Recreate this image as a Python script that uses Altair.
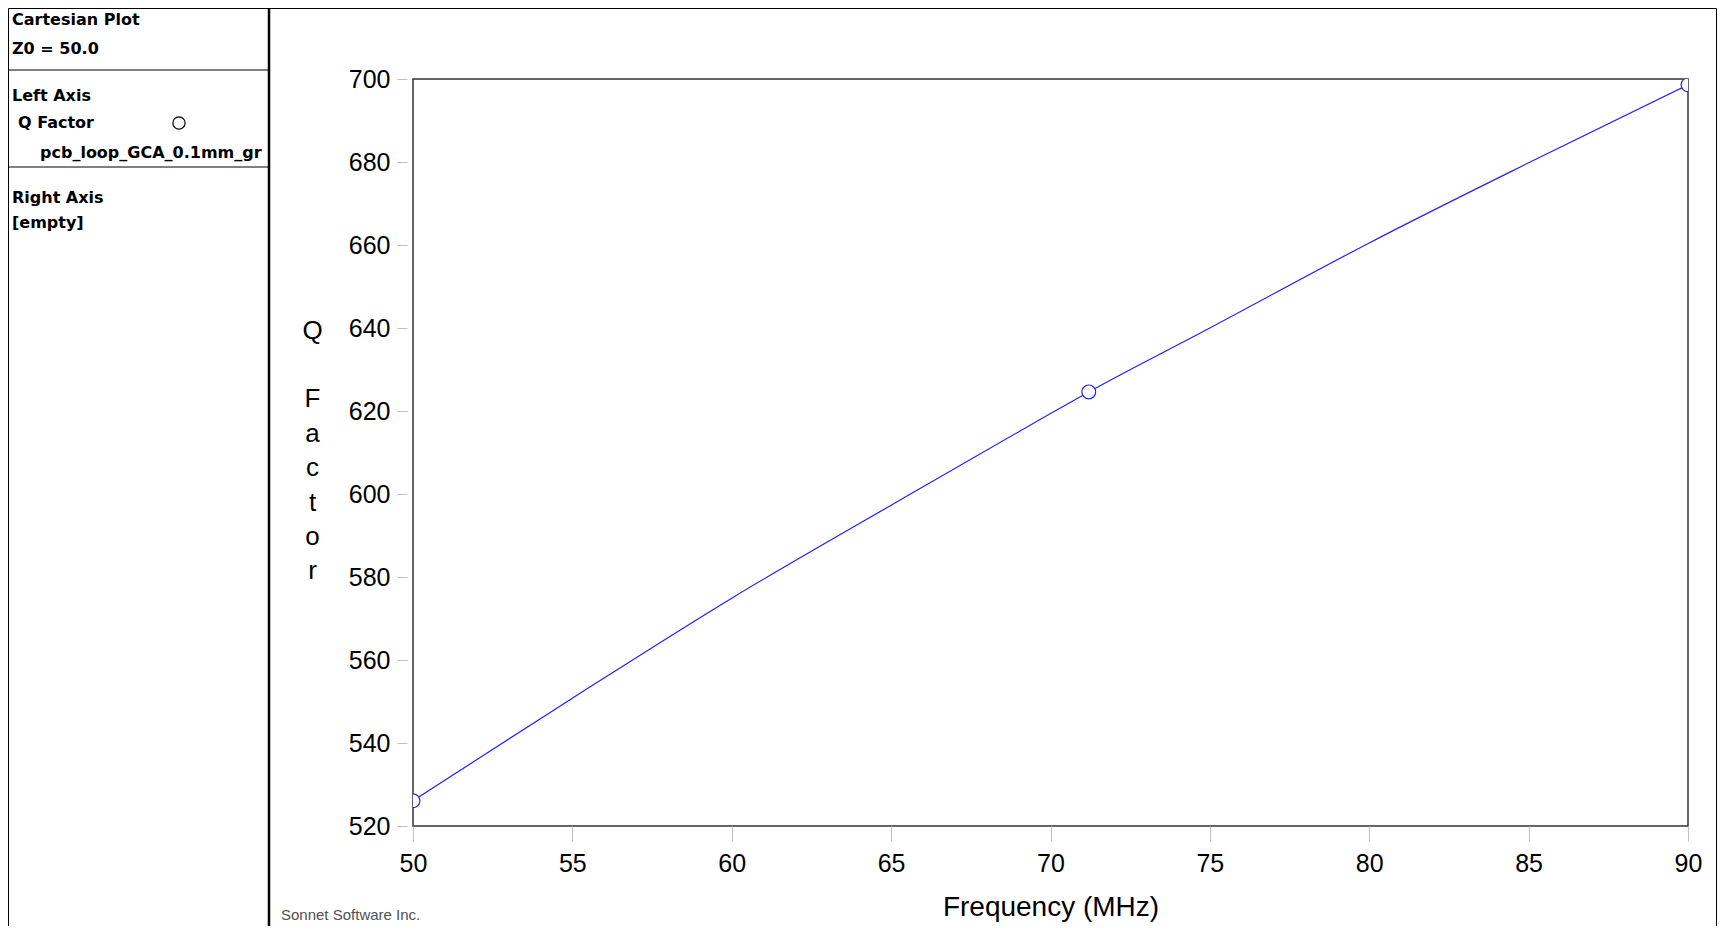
import altair as alt
import pandas as pd

# ---- data ----
freq_mhz = [50, 55, 60, 65, 70, 71.2, 75, 80, 85, 90]
q_factor = [526.1, 550.8, 574.9, 597.3, 619.4, 624.6, 640.0, 660.5, 679.8, 698.6]
marker_freq = [50, 71.2, 90]
marker_q = [526.1, 624.6, 698.6]
x_ticks = [50, 55, 60, 65, 70, 75, 80, 85, 90]
y_ticks = [520, 540, 560, 580, 600, 620, 640, 660, 680, 700]
series_name = "pcb_loop_GCA_0.1mm_gr"

W, H = 1275, 747
FONT = "Liberation Sans"
PANEL_FONT = "DejaVu Sans"

line_df = pd.DataFrame({"f": freq_mhz, "q": q_factor})
mark_df = pd.DataFrame({"f": marker_freq, "q": marker_q})
one = pd.DataFrame({"a": [0]})

xscale = alt.Scale(domain=[50, 90], nice=False, zero=False)
yscale = alt.Scale(domain=[520, 700], nice=False, zero=False)

xaxis = alt.Axis(values=x_ticks, title="Frequency (MHz)", grid=False, domain=False,
                 tickSize=15, tickColor="#c0c0c0", labelPadding=10, labelFlush=False,
                 labelFontSize=25, labelFont=FONT, labelColor="black",
                 titleFontSize=28, titleFont=FONT, titleFontWeight="normal",
                 titleColor="black", titleBaseline="middle", titleY=81)
yaxis = alt.Axis(values=y_ticks,
                 title=["Q", "\u2800", "F", "a", "c", "t", "o", "r"],
                 grid=False, domain=False, offset=6, labelFlush=False,
                 tickSize=10, tickColor="#c0c0c0", labelPadding=7,
                 labelFontSize=25, labelFont=FONT, labelColor="black",
                 titleFontSize=26, titleFont=FONT, titleFontWeight="normal",
                 titleColor="black", titleAngle=0, titleAlign="center",
                 titleBaseline="middle", titleLineHeight=34.4,
                 titleX=-95, titleY=251)

line = alt.Chart(line_df).mark_line(color="#2020ff", strokeWidth=1.2, clip=True,
                                    interpolate="monotone").encode(
    x=alt.X("f:Q", scale=xscale, axis=xaxis),
    y=alt.Y("q:Q", scale=yscale, axis=yaxis),
)
pts = alt.Chart(mark_df).mark_point(shape="circle", size=190, filled=True, fill="white",
                                    stroke="#2020ff", strokeWidth=1.2, opacity=1,
                                    clip=True).encode(
    x=alt.X("f:Q", scale=xscale),
    y=alt.Y("q:Q", scale=yscale),
)

def hrule(x1, x2, y, w=1.0):
    return alt.Chart(one).mark_rule(color="black", strokeWidth=w).encode(
        x=alt.value(x1), x2=alt.value(x2), y=alt.value(y))

def vrule(x, y1, y2, w=1.0):
    return alt.Chart(one).mark_rule(color="black", strokeWidth=w).encode(
        x=alt.value(x), y=alt.value(y1), y2=alt.value(y2))

def label(txt, x, y, size=16, bold=True, color="black", font=PANEL_FONT, limit=0):
    kw = dict(text=txt, align="left", baseline="middle", font=font, fontSize=size,
              fontWeight="bold" if bold else "normal", color=color)
    if limit:
        kw["limit"] = limit
        kw["ellipsis"] = ""
    return alt.Chart(one).mark_text(**kw).encode(x=alt.value(x), y=alt.value(y))

frame = [
    hrule(-404.5, 1303.5, -70.5),
    vrule(-404.5, -70.5, 850),
    vrule(-144, -70.5, 850, 2.5),
    vrule(1303.5, -70.5, 850),
    hrule(-404.5, -144, -9),
    hrule(-404.5, -144, 88),
]
texts = [
    label("Cartesian Plot", -401, -59),
    label("Z0 = 50.0", -401, -30),
    label("Left Axis", -401, 17),
    label("Q Factor", -395, 44),
    label(series_name, -373, 74, limit=232),
    label("Right Axis", -401, 119),
    label("[empty]", -401, 144),
    label("Sonnet Software Inc.", -132, 836, size=15, bold=False, color="#505050",
          font=FONT),
]
legend_marker = alt.Chart(one).mark_point(shape="circle", size=150, filled=True,
                                          fill="white", stroke="black",
                                          strokeWidth=1.2, opacity=1).encode(
    x=alt.value(-234), y=alt.value(44))

chart = alt.layer(line, pts, *frame, *texts, legend_marker).properties(
    width=W, height=H,
    autosize=alt.AutoSizeParams(type="none"),
    padding={"left": 405, "top": 71, "right": 30, "bottom": 100},
    background="white",
).configure_view(stroke="#333333", strokeWidth=1.5)

chart.save("out.html", embed_options={"renderer": "svg", "actions": False})
